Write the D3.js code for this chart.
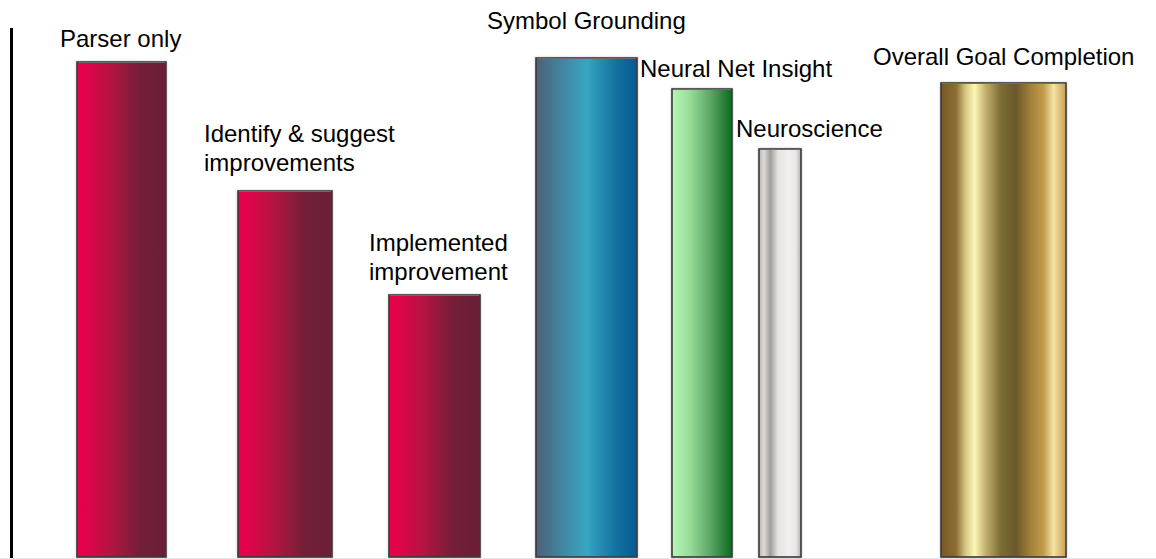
<!DOCTYPE html>
<html>
<head>
<meta charset="utf-8">
<script src="https://cdn.jsdelivr.net/npm/d3@7"></script>
<style>
  html, body { margin: 0; padding: 0; background: #fff; }
  svg { display: block; }
  text { font-family: "Liberation Sans", Arial, sans-serif; fill: #000; }
</style>
</head>
<body>
<svg id="chart" width="1156" height="559"></svg>
<script>
// ---- data ----
const categories = [
  "Parser only",
  "Identify & suggest improvements",
  "Implemented improvement",
  "Symbol Grounding",
  "Neural Net Insight",
  "Neuroscience",
  "Overall Goal Completion"
];
const progress = [99, 73.2, 52.4, 99.8, 93.6, 81.6, 94.8];
const labelLines = [
  ["Parser only"],
  ["Identify & suggest", "improvements"],
  ["Implemented", "improvement"],
  ["Symbol Grounding"],
  ["Neural Net Insight"],
  ["Neuroscience"],
  ["Overall Goal Completion"]
];

// ---- layout (horizontal spans in layout units, label anchors) ----
const barSpans = [[77, 166], [238, 332], [389, 480], [536, 637], [672, 732], [759, 801], [941, 1066]];
const labelAnchors = [[60, 47], [204, 142], [369, 251], [487, 29], [640, 77], [736, 137], [873, 65]];
const fills = ["red", "red", "red", "blue", "green", "silver", "gold"];

const gradients = {
  red: [[0, "#ea0049"], [0.1, "#e0044a"], [0.4, "#b01540"], [0.7, "#741f38"], [1, "#6a1f36"]],
  blue: [[0, "#4e5f77"], [0.2, "#437e98"], [0.5, "#37a6c3"], [0.8, "#12709e"], [1, "#065b92"]],
  green: [[0, "#b4f8b4"], [0.3, "#97dc98"], [0.65, "#5aa464"], [1, "#0c6a1f"]],
  silver: [[0, "#b9b4b0"], [0.12, "#dedad7"], [0.27, "#a19c99"], [0.45, "#e6e2e0"], [0.7, "#f3eff0"], [0.88, "#ebe7e7"], [1, "#b3afaf"]],
  gold: [[0, "#7a5828"], [0.12, "#8c6d32"], [0.2, "#d8cb86"], [0.27, "#fbf7b6"], [0.36, "#c2ad6c"], [0.48, "#7c6c32"], [0.6, "#6a582a"], [0.72, "#a4823a"], [0.82, "#c09c4c"], [0.9, "#f3e3a2"], [1, "#c8a052"]]
};

const W = 1156, H = 559;
const svg = d3.select("#chart");

const x = d3.scaleLinear().domain([0, W]).range([0, W]);
const y = d3.scaleLinear().domain([0, 100]).range([557, 57]);

// gradient definitions
const defs = svg.append("defs");
Object.entries(gradients).forEach(([name, stops]) => {
  const g = defs.append("linearGradient")
    .attr("id", "grad-" + name)
    .attr("x1", "0%").attr("x2", "100%").attr("y1", "0%").attr("y2", "0%");
  stops.forEach(([o, c]) => g.append("stop").attr("offset", o).attr("stop-color", c));
});
const blur = defs.append("filter").attr("id", "soft").attr("x", "-20%").attr("y", "-20%").attr("width", "140%").attr("height", "140%");
blur.append("feGaussianBlur").attr("stdDeviation", 1.2);

// vertical axis line
svg.append("line")
  .attr("x1", 11.5).attr("x2", 11.5)
  .attr("y1", 28).attr("y2", H)
  .attr("stroke", "#000").attr("stroke-width", 3);

// faint baseline
svg.append("line")
  .attr("x1", 0).attr("x2", W)
  .attr("y1", 558.5).attr("y2", 558.5)
  .attr("stroke", "#e6e6e6").attr("stroke-width", 1);

const bars = svg.append("g").selectAll("g")
  .data(categories.map((c, i) => ({ c, v: progress[i], span: barSpans[i], fill: fills[i] })))
  .join("g");

// soft shadow
bars.append("rect")
  .attr("x", d => x(d.span[0]) - 1)
  .attr("y", d => y(d.v) - 1)
  .attr("width", d => x(d.span[1]) - x(d.span[0]) + 2)
  .attr("height", d => y(0) - y(d.v) + 2)
  .attr("fill", "#c8c8c8")
  .attr("filter", "url(#soft)");

// gradient body
bars.append("rect")
  .attr("x", d => x(d.span[0]))
  .attr("y", d => y(d.v))
  .attr("width", d => x(d.span[1]) - x(d.span[0]))
  .attr("height", d => y(0) - y(d.v))
  .attr("fill", d => `url(#grad-${d.fill})`)
  .attr("stroke", "#3a3a3a")
  .attr("stroke-width", 1.6);

// lighter top edge
bars.append("line")
  .attr("x1", d => x(d.span[0]) + 1)
  .attr("x2", d => x(d.span[1]) - 1)
  .attr("y1", d => y(d.v) + 0.5)
  .attr("y2", d => y(d.v) + 0.5)
  .attr("stroke", "#6a6a6a")
  .attr("stroke-width", 1);

// labels
svg.append("g").selectAll("text")
  .data(labelLines.map((lines, i) => ({ lines, at: labelAnchors[i] })))
  .join("text")
  .attr("x", d => d.at[0])
  .attr("y", d => d.at[1])
  .attr("font-size", 24)
  .each(function (d) {
    d3.select(this).selectAll("tspan")
      .data(d.lines)
      .join("tspan")
      .attr("x", d.at[0])
      .attr("dy", (l, j) => j === 0 ? 0 : 29)
      .text(l => l);
  });
</script>
</body>
</html>
